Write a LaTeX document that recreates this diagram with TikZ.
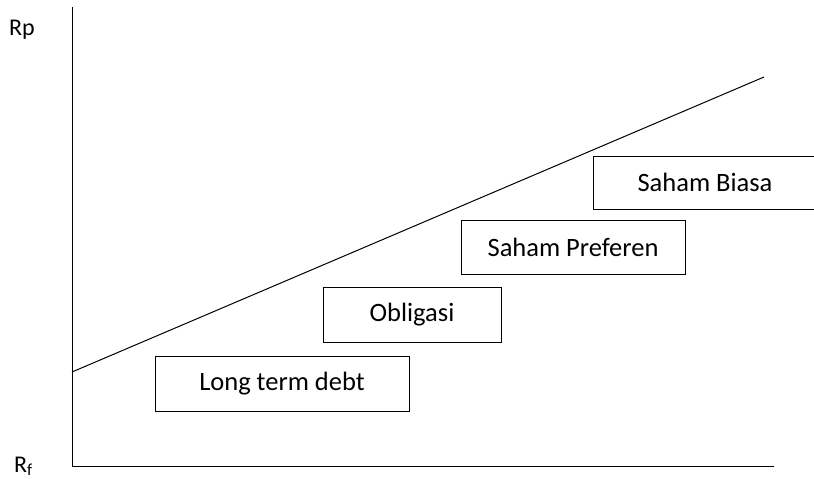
\documentclass[tikz,border=0pt]{standalone}
\usepackage{fontspec}
\setmainfont{Carlito}
\begin{document}
\begin{tikzpicture}[x=1pt,y=-1pt,
  boxstyle/.style={draw=black,line width=0.9pt,inner sep=0pt,font=\fontsize{26.5}{30}\selectfont},
  axisstyle/.style={line width=1pt},
  lbl/.style={inner sep=0pt,font=\fontsize{24}{28}\selectfont}]
\useasboundingbox (0,0) rectangle (814,479);
% axes
\coordinate (top) at (72,7);
\coordinate (origin) at (72,466);
\coordinate (xend) at (774,466);
\draw[axisstyle] (top) -- (origin) -- (xend);
% line
\coordinate (ls) at (72,372);
\coordinate (le) at (764,77);
\draw[line width=1pt] (ls) -- (le);
% labels
\node[lbl,anchor=base west] (rp) at (9,35) {Rp};
\node[lbl,anchor=base west] (rf) at (14,472) {R$_{\mathrm{f}}$};
% boxes
\node[boxstyle,minimum width=254,minimum height=55] (ltd) at (282,383.5) {Long term debt};
\node[boxstyle,minimum width=178,minimum height=55] (obl) at (412,314.5) {Obligasi};
\node[boxstyle,minimum width=224,minimum height=54] (pref) at (573,247) {Saham Preferen};
\node[boxstyle,minimum width=224,minimum height=53] (bias) at (705,182.5) {Saham Biasa};
\end{tikzpicture}
\end{document}
